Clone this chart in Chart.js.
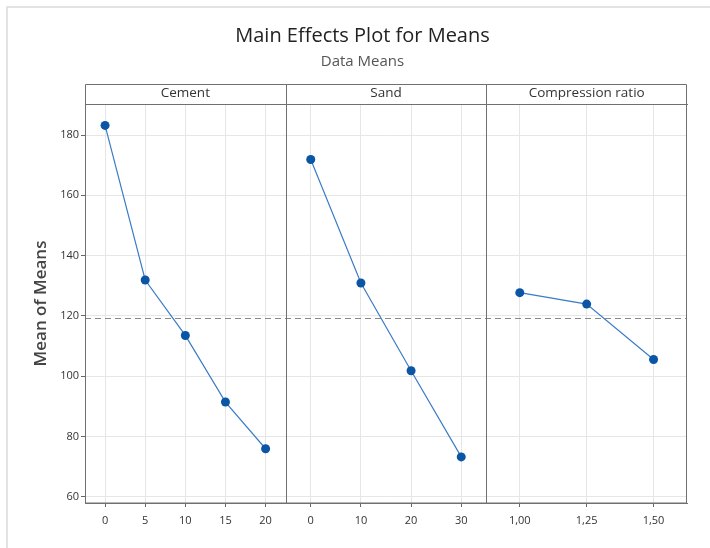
<!DOCTYPE html>
<html>
<head>
<meta charset="utf-8">
<script src="https://cdn.jsdelivr.net/npm/chart.js@4.4.1/dist/chart.umd.min.js"></script>
<style>
  html, body { margin: 0; padding: 0; background: #fff; }
  #wrap { width: 710px; height: 548px; }
</style>
</head>
<body>
<div id="wrap"><canvas id="chart" width="710" height="548"></canvas></div>
<script>
// Main effects plot: one panel per factor, all sharing the mean-of-means axis.
const factors = ['Cement', 'Sand', 'Compression ratio'];

const cementLevels = [0, 5, 10, 15, 20];
const cementMeans = [183.2, 131.9, 113.5, 91.4, 75.9];

const sandLevels = [0, 10, 20, 30];
const sandMeans = [171.9, 130.9, 101.8, 73.2];

const ratioLevels = [1.00, 1.25, 1.50];
const ratioLabels = ['1,00', '1,25', '1,50'];
const ratioMeans = [127.7, 123.9, 105.5];

const yTicks = [60, 80, 100, 120, 140, 160, 180];
const grandMean = 119.2;

Chart.defaults.font.family = '"Open Sans", "Noto Sans", sans-serif';

const FRAME = '#707070';
const GRID = '#e6e6e6';
const TEXT = '#333';

function points(levels, means) {
  return levels.map((x, i) => ({ x, y: means[i] }));
}

// Bottom axes share one stack, so Chart.js lays them side by side.
function panelAxis(min, max, levels, labels) {
  return {
    type: 'linear',
    position: 'bottom',
    stack: 'panels',
    stackWeight: 1,
    min,
    max,
    afterBuildTicks: (s) => { s.ticks = levels.map((v) => ({ value: v })); },
    afterFit: (s) => { s.height = 45; },
    grid: { color: GRID, tickColor: '#666', tickLength: 4 },
    border: { color: FRAME },
    ticks: {
      autoSkip: false,
      maxRotation: 0,
      padding: 7,
      color: TEXT,
      font: { size: 11 },
      callback: (v, i) => (labels ? labels[i] : String(v)),
    },
  };
}

// Top axes only carry the factor name strip.
function stripAxis(text) {
  return {
    type: 'linear',
    position: 'top',
    stack: 'strip',
    stackWeight: 1,
    display: true,
    grid: { display: false, drawTicks: false },
    ticks: { display: false },
    border: { display: true, color: FRAME },
    title: { display: true, text, color: TEXT, font: { size: 13.5 }, padding: { top: 1.5, bottom: 0 } },
    afterFit: (s) => { s.height = 20; },
  };
}

const panelFrame = {
  id: 'panelFrame',
  beforeDraw(chart) {
    const { ctx, width, height } = chart;
    ctx.save();
    ctx.fillStyle = '#fff';
    ctx.fillRect(0, 0, width, height);
    ctx.strokeStyle = '#dadada';
    ctx.lineWidth = 1.5;
    ctx.beginPath();
    ctx.moveTo(7, height);
    ctx.lineTo(7, 7);
    ctx.lineTo(width, 7);
    ctx.stroke();
    ctx.restore();
  },
  beforeDatasetsDraw(chart) {
    const { ctx, chartArea: a, scales } = chart;
    const y = Math.round(scales.y.getPixelForValue(grandMean)) + 0.5;
    ctx.save();
    ctx.strokeStyle = '#8a8a8a';
    ctx.lineWidth = 1;
    ctx.setLineDash([6, 4]);
    ctx.beginPath();
    ctx.moveTo(a.left, y);
    ctx.lineTo(a.right, y);
    ctx.stroke();
    ctx.restore();
  },
  afterDraw(chart) {
    const { ctx, chartArea: a, scales } = chart;
    const top = Math.round(scales.hCement.top) + 0.5;
    ctx.save();
    ctx.strokeStyle = FRAME;
    ctx.lineWidth = 1;
    ctx.beginPath();
    ctx.rect(Math.round(a.left) + 0.5, top, Math.round(a.right - a.left) - 1, Math.round(a.bottom) - top);
    for (const id of ['xCement', 'xSand']) {
      const x = Math.round(scales[id].right) + 0.5;
      ctx.moveTo(x, top);
      ctx.lineTo(x, a.bottom);
    }
    ctx.stroke();
    ctx.restore();
  },
};

const lineStyle = {
  borderColor: '#3a7cc6',
  borderWidth: 1.2,
  pointRadius: 4.5,
  pointBackgroundColor: '#0a56a5',
  pointBorderColor: '#0a56a5',
  pointBorderWidth: 0,
  tension: 0,
  yAxisID: 'y',
};

new Chart(document.getElementById('chart'), {
  type: 'line',
  plugins: [panelFrame],
  data: {
    datasets: [
      { label: factors[0], data: points(cementLevels, cementMeans), xAxisID: 'xCement', ...lineStyle },
      { label: factors[1], data: points(sandLevels, sandMeans), xAxisID: 'xSand', ...lineStyle },
      { label: factors[2], data: points(ratioLevels, ratioMeans), xAxisID: 'xRatio', ...lineStyle },
    ],
  },
  options: {
    responsive: false,
    animation: false,
    // left padding keeps the figure title centred where the original frame puts it
    layout: { padding: { left: 38, right: 23, top: 0, bottom: 0 } },
    scales: {
      y: {
        type: 'linear',
        position: 'left',
        min: 57.9,
        max: 190.3,
        afterBuildTicks: (s) => { s.ticks = yTicks.map((v) => ({ value: v })); },
        afterFit: (s) => { s.width = 47; },
        grid: { color: GRID, tickColor: '#666', tickLength: 4 },
        border: { color: FRAME },
        ticks: { padding: 2, color: TEXT, font: { size: 11 } },
        title: {
          display: true,
          text: 'Mean of Means',
          color: '#444',
          font: { size: 17, weight: '600' },
          padding: { top: -7, bottom: 0 },
        },
      },
      xCement: panelAxis(-2.5, 22.5, cementLevels),
      xSand: panelAxis(-5, 35, sandLevels),
      xRatio: panelAxis(0.875, 1.625, ratioLevels, ratioLabels),
      // top boxes are laid out right-to-left, hence the reversed order
      hRatio: stripAxis(factors[2]),
      hSand: stripAxis(factors[1]),
      hCement: stripAxis(factors[0]),
    },
    plugins: {
      legend: { display: false },
      tooltip: { enabled: false },
      title: {
        display: true,
        text: 'Main Effects Plot for Means',
        color: '#222',
        font: { size: 20, weight: 'normal' },
        padding: { top: 24, bottom: 0 },
      },
      subtitle: {
        display: true,
        text: 'Data Means',
        color: '#555',
        font: { size: 15 },
        padding: { top: 5, bottom: 13 },
      },
    },
  },
});
</script>
</body>
</html>
